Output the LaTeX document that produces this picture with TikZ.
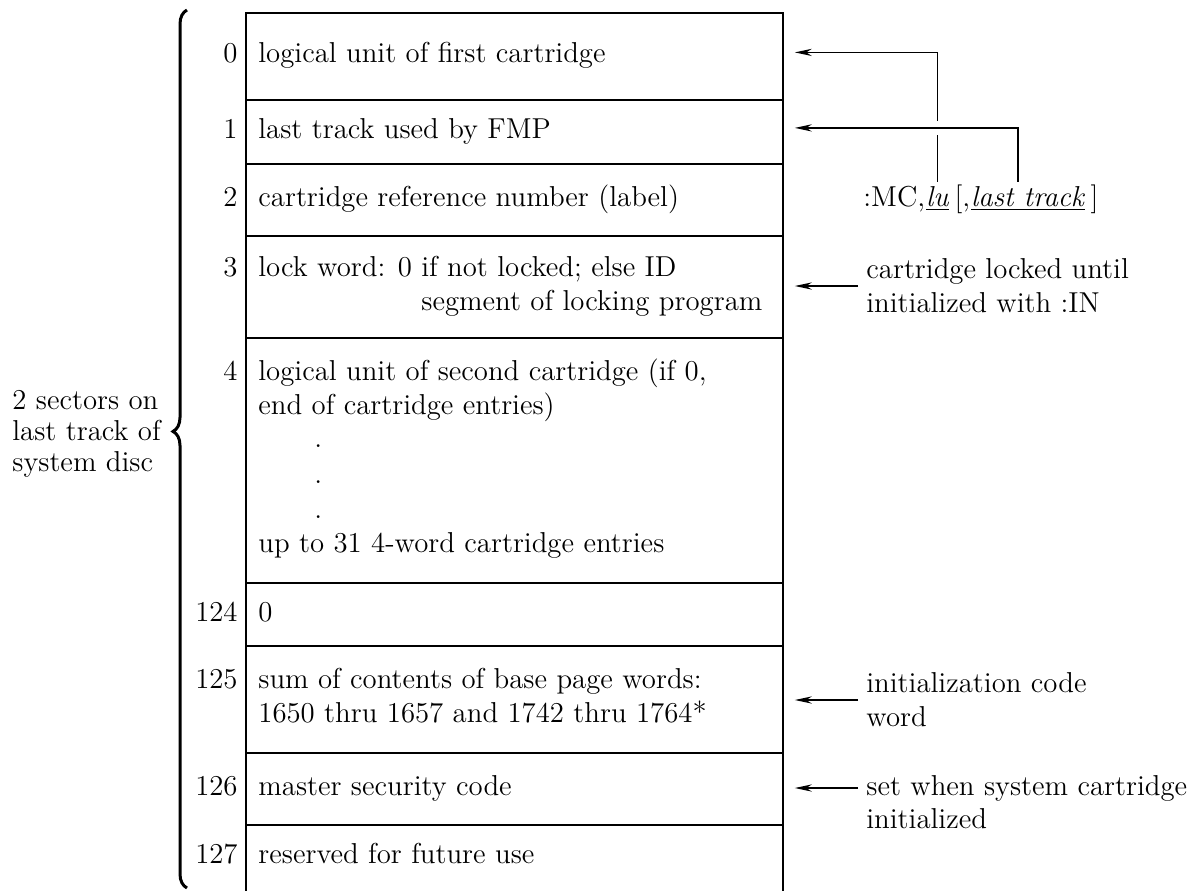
\documentclass[tikz,border=0pt]{standalone}
\usetikzlibrary{arrows.meta,decorations.pathreplacing}
\begin{document}
\begin{tikzpicture}[x=0.5pt,y=-0.5pt,
  every node/.style={font=\fontsize{14.4}{17}\selectfont, inner sep=0pt},
  row/.style={draw, line width=0.9pt, minimum width=268.5pt, anchor=north west},
  num/.style={anchor=base east},
  txt/.style={anchor=base west},
  note/.style={anchor=west, align=left},
  ptr/.style={-{Stealth[length=8.5pt,width=3.6pt]}, line width=0.75pt, shorten >=5.5pt},
  lead/.style={line width=0.75pt}]
% page
\fill[white] (0,0) rectangle (1195,890);
\clip (0,0) rectangle (1195,890);

% the two-sector table, one box per word group
\node[row, minimum height=43.5pt] (r0)   at (245,12)  {};
\node[row, minimum height=32pt]   (r1)   at (245,99)  {};
\node[row, minimum height=36pt]   (r2)   at (245,163) {};
\node[row, minimum height=51pt]   (r3)   at (245,235) {};
\node[row, minimum height=122.5pt] (r4)  at (245,337) {};
\node[row, minimum height=31.5pt] (r124) at (245,582) {};
\node[row, minimum height=53.5pt] (r125) at (245,645) {};
\node[row, minimum height=36pt]   (r126) at (245,752) {};
\node[row, minimum height=36pt]   (r127) at (245,824) {};

% word numbers
\node[num] (n0)   at (238,62)  {0};
\node[num] (n1)   at (238,138) {1};
\node[num] (n2)   at (238,206) {2};
\node[num] (n3)   at (238,276) {3};
\node[num] (n4)   at (238,380) {4};
\node[num] (n124) at (238,621) {124};
\node[num] (n125) at (238,688) {125};
\node[num] (n126) at (238,795) {126};
\node[num] (n127) at (238,863) {127};

% word contents
\node[txt] (t0)  at (258,62)  {logical unit of first cartridge};
\node[txt] (t1)  at (258,138) {last track used by FMP};
\node[txt] (t2)  at (258,206) {cartridge reference number (label)};
\node[txt] (t3a) at (258,276) {lock word: 0 if not locked; else ID};
\node[txt] (t3b) at (421,310) {segment of locking program};
\node[txt] (t4a) at (258,380) {logical unit of second cartridge (if 0,};
\node[txt] (t4b) at (258,414) {end of cartridge entries)};
\node[txt] (d1)  at (314,447) {.};
\node[txt] (d2)  at (314,483) {.};
\node[txt] (d3)  at (314,518) {.};
\node[txt] (t4c) at (258,552) {up to 31 4-word cartridge entries};
\node[txt] (t124) at (258,621) {0};
\node[txt] (t125a) at (258,688) {sum of contents of base page words:};
\node[txt] (t125b) at (258,722) {1650 thru 1657 and 1742 thru 1764*};
\node[txt] (t126) at (258,795) {master security code};
\node[txt] (t127) at (258,863) {reserved for future use};

% brace and its label
\draw[line width=1.5pt, decorate, decoration={brace, amplitude=7pt, aspect=0.52}]
  (187,888) -- (187,10);
\node[anchor=west, align=left, font=\fontsize{14.4}{15.5}\selectfont] (sect) at (12,434)
  {2 sectors on\\last track of\\system disc};

% :MC command with its parameters
\node[txt] (mc)  at (863,206) {:MC,};
\node[txt] (lu)  at (mc.base east) {\underline{\textit{lu}}};
\node[txt] (mcb) at (lu.base east) {\,[,};
\node[txt] (lt)  at (mcb.base east) {\underline{\textit{last track}}};
\node[txt] (mce) at (lt.base east) {\,]};

\draw[ptr, shorten <=2pt] (lu.north) |- ([yshift=2pt]r0.east);
\draw[ptr, shorten <=2pt,
      preaction={draw=white, line width=7pt, -}]
  ([xshift=-5pt]lt.north) |- ([yshift=2pt]r1.east);

% side notes
\node[note] (lock) at (866,286) {cartridge locked until\\initialized with :IN};
\draw[ptr, shorten <=4pt] (lock.west) -- (lock.west -| r3.east);

\node[note] (init) at (866,700) {initialization code\\word};
\draw[ptr, shorten <=4pt] (init.west) -- (init.west -| r125.east);

\node[anchor=west] (setA) at (866,788) {set when system cartridge};
\node[txt] (setB) at ([yshift=-16.5pt]setA.base west) {initialized};
\draw[ptr, shorten <=4pt] (setA.west) -- (setA.west -| r126.east);
\end{tikzpicture}
\end{document}
